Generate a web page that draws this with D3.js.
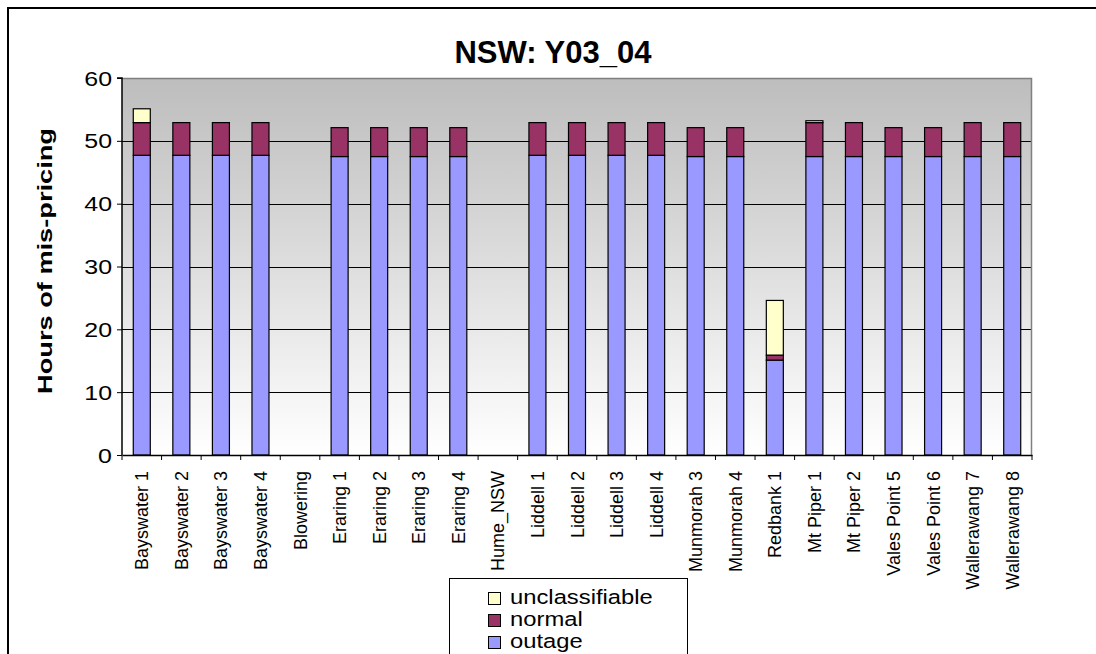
<!DOCTYPE html>
<html>
<head>
<meta charset="utf-8">
<script src="https://cdn.jsdelivr.net/npm/d3@7"></script>
<style>
  html, body { margin: 0; padding: 0; background: #fff; overflow: hidden; }
  svg { display: block; font-family: "Liberation Sans", Arial, sans-serif; }
</style>
</head>
<body>
<svg id="chart" width="1096" height="654"></svg>
<script>
const categories = ["Bayswater 1","Bayswater 2","Bayswater 3","Bayswater 4","Blowering",
  "Eraring 1","Eraring 2","Eraring 3","Eraring 4","Hume_NSW",
  "Liddell 1","Liddell 2","Liddell 3","Liddell 4","Munmorah 3","Munmorah 4",
  "Redbank 1","Mt Piper 1","Mt Piper 2","Vales Point 5","Vales Point 6",
  "Wallerawang 7","Wallerawang 8"];
const outage         = [47.7,47.7,47.7,47.7,0, 47.5,47.5,47.5,47.5,0, 47.7,47.7,47.7,47.7,47.5,47.5, 15.1,47.5,47.5,47.5,47.5, 47.5,47.5];
const normal         = [5.2,5.2,5.2,5.2,0, 4.6,4.6,4.6,4.6,0, 5.2,5.2,5.2,5.2,4.6,4.6, 0.8,5.4,5.4,4.6,4.6, 5.4,5.4];
const unclassifiable = [2.2,0,0,0,0, 0,0,0,0,0, 0,0,0,0,0,0, 8.7,0.3,0,0,0, 0,0];
const yTicks = [0,10,20,30,40,50,60];
const seriesNames = ["outage","normal","unclassifiable"];
const legendOrder = ["unclassifiable","normal","outage"];
const colors = {outage:"#9999ff", normal:"#993366", unclassifiable:"#ffffcc"};
const title = "NSW: Y03_04";
const yTitle = "Hours of mis-pricing";

const svg = d3.select("#chart");
const plot = {left:122, right:1032, top:78, bottom:455};

// outer frame
svg.append("rect").attr("x",8).attr("y",8).attr("width",1200).attr("height",800)
  .attr("fill","#fff").attr("stroke","#000").attr("stroke-width",2);

// gradient background
const defs = svg.append("defs");
const grad = defs.append("linearGradient").attr("id","bg").attr("x1",0).attr("y1",0).attr("x2",0).attr("y2",1);
grad.append("stop").attr("offset","0%").attr("stop-color","#bdbdbd");
grad.append("stop").attr("offset","100%").attr("stop-color","#ffffff");

const x = d3.scaleBand().domain(categories).range([plot.left, plot.right]).paddingInner(0.57).paddingOuter(0.285);
const y = d3.scaleLinear().domain([0,60]).range([plot.bottom, plot.top]);

svg.append("rect").attr("x",plot.left).attr("y",plot.top)
  .attr("width",plot.right-plot.left).attr("height",plot.bottom-plot.top)
  .attr("fill","url(#bg)");

// gridlines
svg.append("g").selectAll("line").data(yTicks.filter(t=>t>0 && t<60)).join("line")
  .attr("x1",plot.left).attr("x2",plot.right)
  .attr("y1",d=>Math.round(y(d))+0.5).attr("y2",d=>Math.round(y(d))+0.5)
  .attr("stroke","#000").attr("stroke-width",1);

// plot border top/right grey
svg.append("path")
  .attr("d",`M${plot.left},${plot.top+0.5}H${plot.right-0.5}V${plot.bottom}`)
  .attr("fill","none").attr("stroke","#808080").attr("stroke-width",1.5);

// stacked bars
const table = categories.map((c,i)=>({cat:c, outage:outage[i], normal:normal[i], unclassifiable:unclassifiable[i]}));
const stack = d3.stack().keys(seriesNames)(table);
svg.append("g").selectAll("g").data(stack).join("g")
  .attr("fill",d=>colors[d.key])
  .selectAll("rect").data(d=>d.filter(p=>p[1]-p[0]>0)).join("rect")
  .attr("x",d=>x(d.data.cat)).attr("width",x.bandwidth())
  .attr("y",d=>y(d[1])).attr("height",d=>y(d[0])-y(d[1]))
  .attr("stroke","#000").attr("stroke-width",1.2);

// y axis
const yAxis = svg.append("g").attr("transform",`translate(${plot.left},0)`)
  .call(d3.axisLeft(y).tickValues(yTicks).tickSize(5).tickFormat(d3.format("d")));
yAxis.select(".domain").attr("stroke","#000").attr("stroke-width",1.5).attr("d",`M-5,${plot.top}H0V${plot.bottom}`);
yAxis.selectAll(".tick line").attr("stroke","#000");
yAxis.selectAll(".tick text").attr("x",null).attr("dy",null)
  .attr("font-size",19.5).attr("fill","#000").attr("text-anchor","end")
  .attr("font-family","'Liberation Sans', Arial, sans-serif")
  .attr("transform","translate(-10,7) scale(1.28,1)");

// x axis
const xAxis = svg.append("g").attr("transform",`translate(0,${plot.bottom})`)
  .call(d3.axisBottom(x).tickSize(0).tickSizeOuter(0));
xAxis.select(".domain").attr("stroke","#000").attr("stroke-width",1.5);
xAxis.selectAll(".tick text")
  .attr("font-size",18).attr("fill","#000")
  .attr("font-family","'Liberation Sans', Arial, sans-serif")
  .attr("text-anchor","end").attr("y",0).attr("dy",null)
  .attr("transform","translate(6.5,16) rotate(-90)");
// category separator ticks
const step = x.step();
const bounds = d3.range(categories.length+1).map(i=>plot.left + i*step);
svg.append("g").selectAll("line").data(bounds).join("line")
  .attr("x1",d=>d).attr("x2",d=>d).attr("y1",plot.bottom).attr("y2",plot.bottom+5)
  .attr("stroke","#000").attr("stroke-width",1);

// title
svg.append("text").attr("x",553).attr("y",63).attr("text-anchor","middle")
  .attr("font-size",31).attr("font-weight","bold").text(title);

// y title
svg.append("text").attr("text-anchor","middle").attr("font-size",20).attr("font-weight","bold")
  .attr("transform","translate(52,261) rotate(-90) scale(1.36,1)").text(yTitle);

// legend
const lg = svg.append("g");
lg.append("rect").attr("x",449.5).attr("y",578.5).attr("width",238).attr("height",120)
  .attr("fill","#fff").attr("stroke","#000").attr("stroke-width",1);
const rows = lg.selectAll("g").data(legendOrder).join("g")
  .attr("transform",(d,i)=>`translate(0,${i*22})`);
rows.append("rect").attr("x",488.5).attr("y",592.5).attr("width",12).attr("height",12)
  .attr("fill",d=>colors[d]).attr("stroke","#000").attr("stroke-width",1);
rows.append("text").attr("font-size",19.5).attr("fill","#000")
  .attr("transform","translate(510,604) scale(1.22,1)").text(d=>d);
</script>
</body>
</html>
